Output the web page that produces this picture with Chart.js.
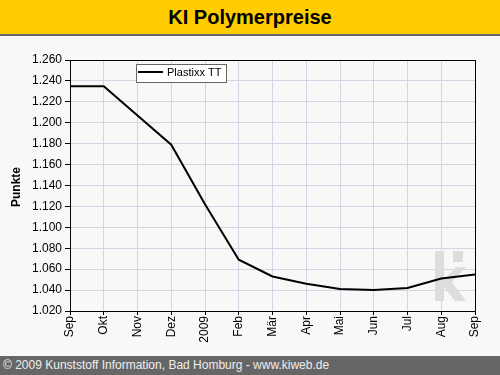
<!DOCTYPE html>
<html>
<head>
<meta charset="utf-8">
<script src="https://cdn.jsdelivr.net/npm/chart.js@4"></script>
<style>
  body { margin: 0; width: 500px; height: 375px; overflow: hidden; background: #f8f8f8; font-family: Arial, "Liberation Sans", sans-serif; }
  #wrap { position: absolute; left: 0; top: 0; width: 500px; height: 375px; }
  #title { position: absolute; left: 0; top: 0; width: 500px; height: 34px; background: #ffcc00; border-bottom: 2px solid #666; text-align: center; font-weight: bold; font-size: 20px; line-height: 35px; color: #000; z-index: 2; }
  #footer { position: absolute; left: 0; top: 356px; width: 497px; height: 19px; background: #666; color: #eee; font-size: 12px; line-height: 19px; padding-left: 3px; z-index: 2; }
</style>
</head>
<body>
<div id="title">KI Polymerpreise</div>
<div id="wrap"><canvas id="chart" width="500" height="375"></canvas></div>
<div id="footer">© 2009 Kunststoff Information, Bad Homburg - www.kiweb.de</div>
<script>
var months = ['Sep', 'Okt', 'Nov', 'Dez', '2009', 'Feb', 'Mär', 'Apr', 'Mai', 'Jun', 'Jul', 'Aug', 'Sep'];
var plastixx = [1235, 1235, 1207, 1179, 1122, 1069, 1053, 1046, 1041, 1040, 1042, 1051, 1055];
var seriesName = 'Plastixx TT';
var yMin = 1020, yMax = 1260, yStep = 20;

function fmtDE(v) {
    var s = String(Math.round(v) % 1000);
    while (s.length < 3) s = '0' + s;
    return Math.floor(v / 1000) + '.' + s;
}

// frame, legend, axis title and the little ki mark
const extras = {
    id: 'extras',
    beforeDatasetsDraw(chart) {
        const ctx = chart.ctx;
        ctx.save();
        ctx.fillStyle = '#dddddd';
        ctx.fillRect(435, 251, 9, 50);
        ctx.fillRect(453, 251, 10, 11);
        ctx.beginPath();
        ctx.moveTo(444, 280);
        ctx.lineTo(456, 267);
        ctx.lineTo(466, 267);
        ctx.lineTo(452, 282);
        ctx.lineTo(466, 301);
        ctx.lineTo(455, 301);
        ctx.lineTo(444, 287);
        ctx.closePath();
        ctx.fill();
        ctx.restore();
    },
    afterDraw(chart) {
        const ctx = chart.ctx;
        const a = chart.chartArea;
        ctx.save();
        ctx.strokeStyle = '#000';
        ctx.lineWidth = 1;
        ctx.strokeRect(Math.round(a.left) + 0.5, Math.round(a.top) + 0.5, Math.round(a.right - a.left), Math.round(a.bottom - a.top));

        // legend
        ctx.fillStyle = '#fff';
        ctx.fillRect(136.5, 64.5, 90, 18);
        ctx.strokeStyle = '#666';
        ctx.strokeRect(136.5, 64.5, 90, 18);
        ctx.strokeStyle = '#000';
        ctx.lineWidth = 2;
        ctx.beginPath();
        ctx.moveTo(138, 72);
        ctx.lineTo(163, 72);
        ctx.stroke();
        ctx.fillStyle = '#000';
        ctx.font = '11px Arial, "Liberation Sans"';
        ctx.textBaseline = 'middle';
        ctx.fillText(chart.data.datasets[0].label, 167, 73);

        // y title
        ctx.translate(17, 187);
        ctx.rotate(-Math.PI / 2);
        ctx.font = 'bold 12px Arial, "Liberation Sans"';
        ctx.textAlign = 'center';
        ctx.fillText('Punkte', 0, 0);
        ctx.restore();
    }
};

new Chart(document.getElementById('chart'), {
    type: 'line',
    data: {
        labels: months,
        datasets: [{
            label: seriesName,
            data: plastixx,
            borderColor: '#000',
            borderWidth: 2,
            pointRadius: 0,
            tension: 0,
            fill: false
        }]
    },
    options: {
        responsive: false,
        animation: false,
        layout: { padding: { top: 60, right: 25, left: 0, bottom: 0 } },
        plugins: { legend: { display: false }, tooltip: { enabled: false } },
        scales: {
            x: {
                afterFit: s => { s.height = 64; },
                grid: { color: '#d4d4e4', tickColor: '#000', tickLength: 4 },
                border: { color: '#000' },
                ticks: {
                    autoSkip: false, minRotation: 90, maxRotation: 90, padding: 1,
                    color: '#000', font: { family: 'Arial, "Liberation Sans"', size: 12 }
                }
            },
            y: {
                min: yMin, max: yMax,
                afterFit: s => { s.width = 70; },
                grid: { color: '#d4d4e4', tickColor: '#000', tickLength: 5 },
                border: { color: '#000' },
                ticks: {
                    stepSize: yStep, padding: 3, color: '#000',
                    font: { family: 'Arial, "Liberation Sans"', size: 12 },
                    callback: v => fmtDE(v)
                }
            }
        }
    },
    plugins: [extras]
});
</script>
</body>
</html>
